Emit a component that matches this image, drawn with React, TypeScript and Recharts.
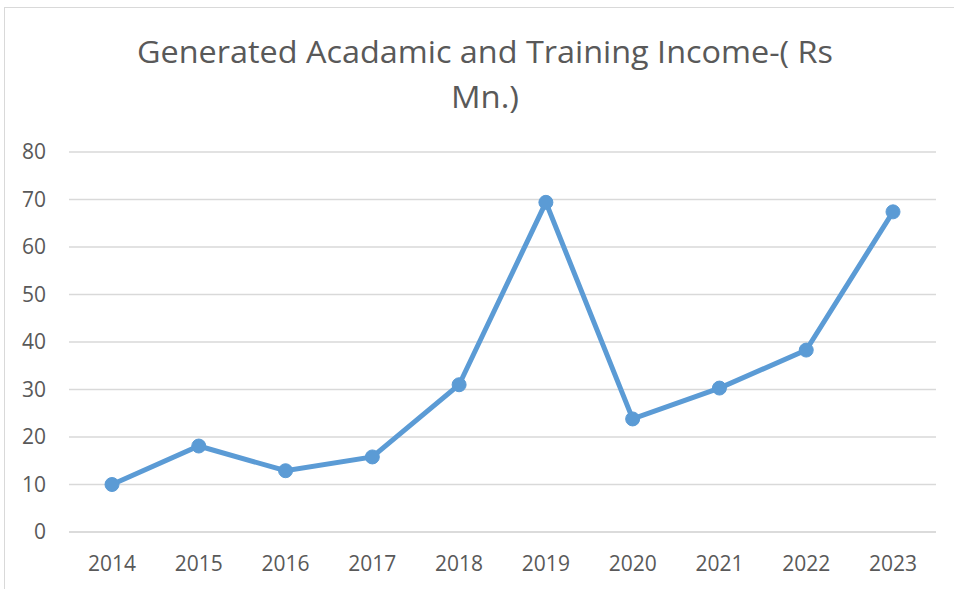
import { LineChart, Line, XAxis, YAxis, CartesianGrid } from 'recharts';

const years = ['2014', '2015', '2016', '2017', '2018', '2019', '2020', '2021', '2022', '2023'];
const income = [10.0, 18.1, 12.9, 15.8, 31.0, 69.4, 23.8, 30.3, 38.3, 67.4];
const yTicks = [0, 10, 20, 30, 40, 50, 60, 70, 80];

const titleLines = ['Generated Acadamic and Training Income-( Rs', 'Mn.)'];

const data = years.map((year, i) => ({ year, income: income[i] }));

const textColor = '#595959';
const fontFamily = '"Open Sans", "Liberation Sans", sans-serif';

export default function App() {
  return (
    <div
      style={{
        position: 'absolute',
        left: 0,
        top: 0,
        width: 954,
        height: 589,
        background: '#fff',
        overflow: 'hidden',
      }}
    >
      {/* chart frame */}
      <div
        style={{
          position: 'absolute',
          left: 4,
          top: 7,
          width: 980,
          height: 620,
          border: '1px solid #d9d9d9',
          boxSizing: 'border-box',
        }}
      />
      <svg width={954} height={130} style={{ position: 'absolute', left: 0, top: 0 }}>
        <text
          x={485}
          y={63}
          textAnchor="middle"
          fontFamily={fontFamily}
          fontSize={31}
          fill={textColor}
          textLength={696}
          lengthAdjust="spacingAndGlyphs"
        >
          {titleLines[0]}
        </text>
        <text
          x={485}
          y={108}
          textAnchor="middle"
          fontFamily={fontFamily}
          fontSize={31}
          fill={textColor}
          textLength={68}
          lengthAdjust="spacingAndGlyphs"
        >
          {titleLines[1]}
        </text>
      </svg>
      <div style={{ position: 'absolute', left: 0, top: 0 }}>
        <LineChart
          width={954}
          height={589}
          data={data}
          margin={{ top: 152, right: 18, bottom: 27, left: 0 }}
        >
          <CartesianGrid vertical={false} stroke="#d9d9d9" strokeWidth={1.5} />
          <XAxis
            dataKey="year"
            axisLine={{ stroke: '#d9d9d9', strokeWidth: 1.5 }}
            tickLine={false}
            tickMargin={18}
            height={30}
            interval={0}
            padding={{ left: 43, right: 43 }}
            tick={{ fill: textColor, fontSize: 21, fontFamily }}
          />
          <YAxis
            domain={[0, 80]}
            ticks={yTicks}
            width={69}
            axisLine={false}
            tickLine={false}
            tickMargin={17}
            tick={{ fill: textColor, fontSize: 21, fontFamily }}
          />
          <Line
            type="linear"
            dataKey="income"
            stroke="#5b9bd5"
            strokeWidth={5}
            dot={{ r: 7, fill: '#5b9bd5', stroke: '#5b9bd5', strokeWidth: 1 }}
            isAnimationActive={false}
          />
        </LineChart>
      </div>
    </div>
  );
}
